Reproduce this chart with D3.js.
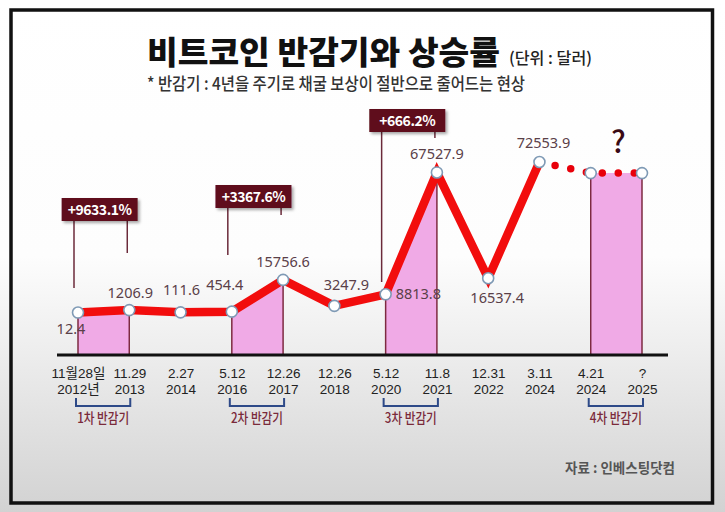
<!DOCTYPE html>
<html>
<head>
<meta charset="utf-8">
<script src="https://cdn.jsdelivr.net/npm/d3@7"></script>
<style>
  html, body { margin: 0; padding: 0; }
  body { width: 725px; height: 512px; overflow: hidden; }
  svg { display: block; }
</style>
</head>
<body>
<div id="chart"></div>
<script>
// ---------------- DATA ----------------
const dateLine1 = ["11월28일", "11.29", "2.27", "5.12", "12.26", "12.26", "5.12", "11.8", "12.31", "3.11", "4.21", "?"];
const dateLine2 = ["2012년", "2013", "2014", "2016", "2017", "2018", "2020", "2021", "2022", "2024", "2024", "2025"];
const prices = [12.4, 1206.9, 111.6, 454.4, 15756.6, 3247.9, 8813.8, 67527.9, 16537.4, 72553.9, 67200, 67200];
const priceLabels = ["12.4", "1206.9", "111.6", "454.4", "15756.6", "3247.9", "8813.8", "67527.9", "16537.4", "72553.9", "", ""];
const halvingStart = [0, 3, 6, 10];
const halvingEnd = [1, 4, 7, 11];
const halvingNames = ["1차 반감기", "2차 반감기", "3차 반감기", "4차 반감기"];
const gains = ["+9633.1%", "+3367.6%", "+666.2%"];
const solidCount = 10; // points joined by the solid line; the rest is projected (dotted)

// ---------------- LAYOUT ----------------
const W = 725, H = 512;
const axisY = 355;
const labelOffsets = [[-7, 21], [1, -12], [1, -17], [-7, -22], [0, -13], [12, -16], [32, 5], [0, -13], [9, 25], [4, -14]];
const gainBoxTop = [198, 185, 109];
const gainLeftEnd = [288, 255, 282];
const gainRightEnd = [253, 215, 138];

const svg = d3.select("#chart").append("svg").attr("width", W).attr("height", H);
const defs = svg.append("defs");
const grad = defs.append("linearGradient").attr("id", "bg").attr("x1", 0).attr("y1", 0).attr("x2", 0).attr("y2", 1);
grad.append("stop").attr("offset", "0%").attr("stop-color", "#ffffff");
grad.append("stop").attr("offset", "50%").attr("stop-color", "#fdfdfd");
grad.append("stop").attr("offset", "70%").attr("stop-color", "#ececec");
grad.append("stop").attr("offset", "100%").attr("stop-color", "#d2d2d2");
const shadow = defs.append("filter").attr("id", "shadow").attr("x", "-20%").attr("y", "-30%").attr("width", "150%").attr("height", "180%");
shadow.append("feDropShadow").attr("dx", 2).attr("dy", 2).attr("stdDeviation", 1.5).attr("flood-color", "#000").attr("flood-opacity", 0.35);

svg.append("rect").attr("width", W).attr("height", H).attr("fill", "url(#bg)");
svg.append("rect").attr("x", 11).attr("y", 10).attr("width", 701.5).attr("height", 493)
  .attr("fill", "none").attr("stroke", "#111").attr("stroke-width", 3.5);

const KR = "'Noto Sans CJK KR', 'Noto Sans', sans-serif";
const NARROW = "'Liberation Sans Narrow', 'Liberation Sans', 'Noto Sans CJK KR', sans-serif";

// Titles
svg.append("text").attr("x", 147).attr("y", 64).attr("font-family", KR).attr("font-weight", 900)
  .attr("font-size", 32).attr("fill", "#111").attr("textLength", 353).attr("lengthAdjust", "spacingAndGlyphs")
  .text("비트코인 반감기와 상승률");
svg.append("text").attr("x", 509).attr("y", 64).attr("font-family", KR).attr("font-weight", 500)
  .attr("font-size", 16).attr("fill", "#222").attr("textLength", 83).attr("lengthAdjust", "spacingAndGlyphs")
  .text("(단위 : 달러)");
svg.append("text").attr("x", 147).attr("y", 90).attr("font-family", KR).attr("font-weight", 500)
  .attr("font-size", 17).attr("fill", "#333").attr("textLength", 378).attr("lengthAdjust", "spacingAndGlyphs")
  .text("* 반감기 : 4년을 주기로 채굴 보상이 절반으로 줄어드는 현상");
svg.append("text").attr("x", 565).attr("y", 473).attr("font-family", KR).attr("font-weight", 700)
  .attr("font-size", 14).attr("fill", "#555").attr("textLength", 110).attr("lengthAdjust", "spacingAndGlyphs")
  .text("자료 : 인베스팅닷컴");

// Scales
const x = d3.scalePoint().domain(d3.range(prices.length)).range([78, 642]);
const y = d3.scaleLinear().domain([0, 72553.9]).range([312.6, 162]);

// Pink halving areas
const fillArea = d3.area().x(i => x(i)).y0(axisY).y1(i => y(prices[i]));
halvingStart.forEach((s, k) => {
  const idx = d3.range(s, halvingEnd[k] + 1);
  svg.append("path").attr("d", fillArea(idx)).attr("fill", "#f0aae6");
  [s, halvingEnd[k]].forEach(i => {
    svg.append("line").attr("x1", x(i)).attr("x2", x(i)).attr("y1", y(prices[i])).attr("y2", axisY)
      .attr("stroke", "#7d2a40").attr("stroke-width", 1.5);
  });
});

// Axis
svg.append("line").attr("x1", 57).attr("x2", 668).attr("y1", axisY).attr("y2", axisY)
  .attr("stroke", "#111").attr("stroke-width", 3);
const axis = d3.axisBottom(x).tickSize(0).tickPadding(0).tickFormat("");
const gAxis = svg.append("g").attr("transform", `translate(0,${axisY})`).call(axis);
gAxis.select(".domain").remove();
gAxis.selectAll(".tick").each(function (i) {
  const g = d3.select(this);
  g.select("text").remove();
  g.append("text").attr("x", 0).attr("y", 23).attr("text-anchor", "middle")
    .attr("font-family", NARROW).attr("font-size", 13.5).attr("fill", "#222")
    .text(dateLine1[i]);
  g.append("text").attr("x", 0).attr("y", 38.5).attr("text-anchor", "middle")
    .attr("font-family", NARROW).attr("font-size", 13.5).attr("fill", "#222")
    .text(dateLine2[i]);
});

// Halving brackets
halvingStart.forEach((s, k) => {
  const x0 = x(s) - 2, x1 = x(halvingEnd[k]) + 1;
  svg.append("path").attr("d", `M${x0},398V406H${x1}V398`).attr("fill", "none")
    .attr("stroke", "#2e4a88").attr("stroke-width", 2);
  const tw = 52;
  svg.append("text").attr("x", (x0 + x1) / 2 - tw / 2).attr("y", 423).attr("font-family", KR)
    .attr("font-weight", 500).attr("font-size", 14).attr("fill", "#7a2a3a")
    .attr("textLength", tw).attr("lengthAdjust", "spacingAndGlyphs").text(halvingNames[k]);
});

// Gain annotation boxes
gains.forEach((g, k) => {
  const s = halvingStart[k], e = halvingEnd[k];
  const cx = (x(s) + x(e)) / 2 - 4;
  const bw = 76, bh = 23, top = gainBoxTop[k];
  svg.append("line").attr("x1", x(s) - 4).attr("x2", x(s) - 4).attr("y1", top + bh).attr("y2", gainLeftEnd[k])
    .attr("stroke", "#6b2a3a").attr("stroke-width", 1.5);
  svg.append("line").attr("x1", x(e) - 2).attr("x2", x(e) - 2).attr("y1", top + bh).attr("y2", gainRightEnd[k])
    .attr("stroke", "#6b2a3a").attr("stroke-width", 1.5);
  svg.append("rect").attr("x", cx - bw / 2).attr("y", top).attr("width", bw).attr("height", bh)
    .attr("fill", "#5e0b1f").attr("filter", "url(#shadow)");
  svg.append("text").attr("x", cx).attr("y", top + 16.5).attr("text-anchor", "middle")
    .attr("font-family", KR).attr("font-weight", 700).attr("font-size", 14).attr("fill", "#fff")
    .attr("letter-spacing", -0.5).text(g);
});

// Red line
const line = d3.line().x(i => x(i)).y(i => y(prices[i]));
svg.append("path").attr("d", line(d3.range(0, solidCount))).attr("fill", "none")
  .attr("stroke", "#f20d0d").attr("stroke-width", 8.5).attr("stroke-linejoin", "miter").attr("stroke-miterlimit", 6);
svg.append("path").attr("d", line(d3.range(solidCount - 1, prices.length))).attr("fill", "none")
  .attr("stroke", "#e8000a").attr("stroke-width", 7.5).attr("stroke-linecap", "round").attr("stroke-dasharray", "0 16");

// Points
svg.selectAll(".pt").data(d3.range(prices.length)).join("circle").attr("class", "pt")
  .attr("cx", i => x(i)).attr("cy", i => y(prices[i])).attr("r", 5.5)
  .attr("fill", "#fff").attr("stroke", "#7f9ab5").attr("stroke-width", 1.6);

// Value labels
svg.selectAll(".vl").data(d3.range(solidCount)).join("text").attr("class", "vl")
  .attr("x", i => x(i) + labelOffsets[i][0]).attr("y", i => y(prices[i]) + labelOffsets[i][1])
  .attr("text-anchor", i => i === 6 ? "start" : "middle")
  .attr("dx", i => i === 6 ? -22 : 0)
  .attr("font-family", "'Noto Sans', sans-serif").attr("font-size", 14.5).attr("fill", "#5a4048")
  .text(i => priceLabels[i]);

// Question mark over the projection
svg.append("text").attr("x", (x(10) + x(11)) / 2 + 2).attr("y", 153).attr("text-anchor", "middle")
  .attr("font-family", KR).attr("font-weight", 500).attr("font-size", 30).attr("fill", "#3a0a14").text("?");
</script>
</body>
</html>
